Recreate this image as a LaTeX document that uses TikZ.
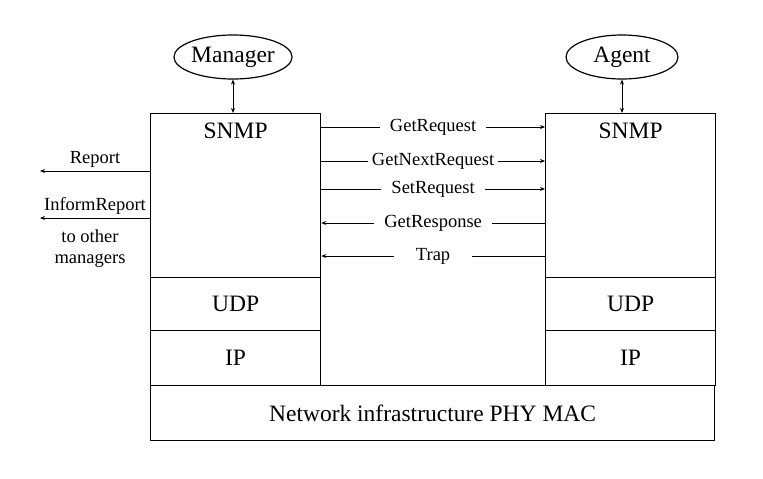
\documentclass[tikz,border=0pt]{standalone}
\usepackage{fontspec}
\setmainfont{Liberation Serif}
\usetikzlibrary{positioning,shapes.geometric,arrows.meta}

\tikzset{
	layer/.style={draw, line width=1.2pt, minimum width=170pt, anchor=north west, inner sep=0pt},
	role/.style={draw, line width=1.2pt, ellipse, minimum width=112pt, minimum height=44pt, inner sep=0pt},
	msg/.style={font=\fontsize{18.5}{20}\selectfont, fill=white, inner xsep=10pt, inner ysep=2pt},
	side/.style={font=\fontsize{18.5}{21}\selectfont, align=center},
	arr/.style={-{Stealth[length=5pt, width=4pt]}, line width=0.9pt},
}

\begin{document}
\begin{tikzpicture}[x=1pt, y=-1pt, font=\fontsize{23.5}{26}\selectfont]
	\useasboundingbox (0,0) rectangle (763,479);
	
	% manager stack
	\node[layer, minimum height=164pt] (msnmp) at (150,113) {};
	\node[below=6pt of msnmp.north] {SNMP};
	\node[layer, minimum height=53pt] (mudp) at (150,277) {UDP};
	\node[layer, minimum height=55pt] (mip) at (150,330) {IP};
	\node[role] (manager) at (233,57) {Manager};
	
	% agent stack
	\node[layer, minimum height=164pt] (asnmp) at (545,113) {};
	\node[below=6pt of asnmp.north] {SNMP};
	\node[layer, minimum height=53pt] (audp) at (545,277) {UDP};
	\node[layer, minimum height=55pt] (aip) at (545,330) {IP};
	\node[role] (agent) at (622,57) {Agent};
	
	% network
	\node[layer, minimum width=564pt, minimum height=55pt] (net) at (150,385) {Network infrastructure PHY MAC};
	
	\draw[{Stealth[length=5pt, width=4pt]}-{Stealth[length=5pt, width=4pt]}, line width=0.9pt] (manager.south) -- (manager.south |- msnmp.north);
	\draw[{Stealth[length=5pt, width=4pt]}-{Stealth[length=5pt, width=4pt]}, line width=0.9pt] (agent.south) -- (agent.south |- asnmp.north);
	
	% messages
	\draw[arr] (msnmp.east |- 0,127) -- node[msg] {GetRequest} (asnmp.west |- 0,127);
	\draw[arr] (msnmp.east |- 0,161) -- node[msg, inner xsep=4pt] {GetNextRequest} (asnmp.west |- 0,161);
	\draw[arr] (msnmp.east |- 0,189) -- node[msg] {SetRequest} (asnmp.west |- 0,189);
	\draw[arr] (asnmp.west |- 0,223) -- node[msg] {GetResponse} (msnmp.east |- 0,223);
	\draw[arr] (asnmp.west |- 0,256) -- node[msg, inner xsep=22pt] {Trap} (msnmp.east |- 0,256);
	
	% to other managers
	\coordinate (rep) at (40,171);
	\coordinate (inf) at (40,218);
	\draw[arr] (msnmp.west |- rep) -- node[side, above=0pt] {Report} (rep);
	\draw[arr] (msnmp.west |- inf) -- node[side, above=0pt] {InformReport} (inf);
	\node[side, below=8pt of inf, xshift=50pt] {to other\\managers};
\end{tikzpicture}
\end{document}
